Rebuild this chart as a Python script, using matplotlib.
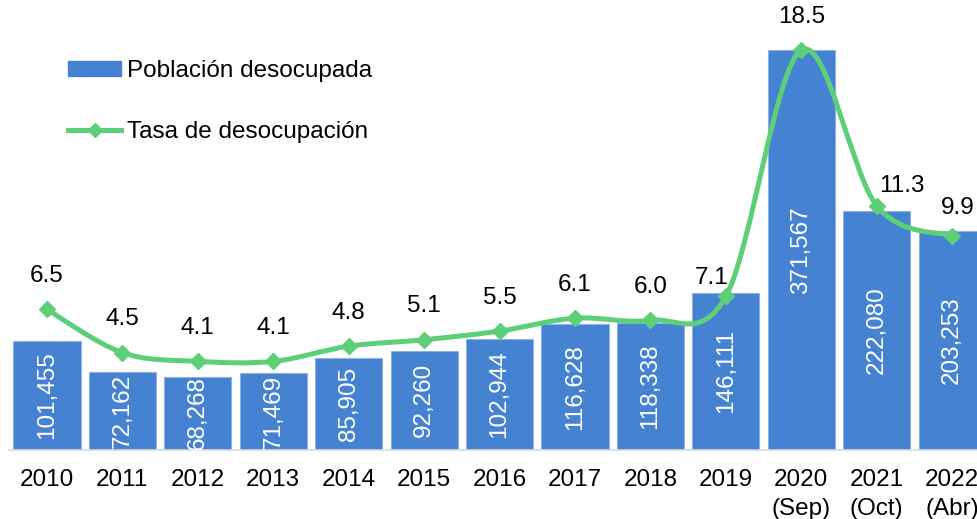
import matplotlib
matplotlib.use("Agg")
import matplotlib.pyplot as plt
from matplotlib.path import Path
from matplotlib.patches import PathPatch
from matplotlib.lines import Line2D
from matplotlib.patches import Patch

plt.rcParams['font.family'] = ['Liberation Sans', 'DejaVu Sans']

categories = ["2010", "2011", "2012", "2013", "2014", "2015", "2016", "2017",
              "2018", "2019", "2020\n(Sep)", "2021\n(Oct)", "2022\n(Abr)"]
poblacion = [101455, 72162, 68268, 71469, 85905, 92260, 102944, 116628,
             118338, 146111, 371567, 222080, 203253]
tasa = [6.5, 4.5, 4.1, 4.1, 4.8, 5.1, 5.5, 6.1, 6.0, 7.1, 18.5, 11.3, 9.9]

bar_color = '#4682D2'
line_color = '#5CCF78'
FS = 17.5

W, H = 977, 519
fig = plt.figure(figsize=(W / 100, H / 100), dpi=100)
ax_left = 9.3 / W
ax_bottom = (H - 450) / H
ax_height = 440 / H
ax = fig.add_axes([ax_left, ax_bottom, 1 - ax_left, ax_height])

x = list(range(len(categories)))
ax.bar(x, poblacion, width=0.89, color=bar_color, edgecolor='#8DB2E6',
       linewidth=0.8, zorder=2)
ax.set_xlim(-0.5, 12.33)
ax.set_ylim(0, max(poblacion) * 440 / 400)
ax.set_xticks(x)
ax.set_xticklabels(categories, fontsize=FS, linespacing=1.4)
ax.tick_params(axis='x', length=0, pad=14)
ax.set_yticks([])
for s in ['top', 'right', 'left']:
    ax.spines[s].set_visible(False)
ax.spines['bottom'].set_color('#D9D9D9')
ax.spines['bottom'].set_linewidth(1.2)

for xi, v in zip(x, poblacion):
    ax.text(xi, v / 2, f"{v:,}", rotation=90, ha='center', va='center',
            color='white', fontsize=FS, zorder=3)

ax2 = ax.twinx()
ax2.set_ylim(0, max(tasa) * 440 / 400)
ax2.set_xlim(-0.5, 12.33)
ax2.axis('off')

# Smoothed line (Catmull-Rom as cubic Bezier, like Excel's smoothed line)
pts = list(zip(x, tasa))
verts = [pts[0]]
codes = [Path.MOVETO]
n = len(pts)
for i in range(n - 1):
    p0 = pts[i - 1] if i > 0 else pts[i]
    p1 = pts[i]
    p2 = pts[i + 1]
    p3 = pts[i + 2] if i + 2 < n else pts[i + 1]
    c1 = (p1[0] + (p2[0] - p0[0]) / 6, p1[1] + (p2[1] - p0[1]) / 6)
    c2 = (p2[0] - (p3[0] - p1[0]) / 6, p2[1] - (p3[1] - p1[1]) / 6)
    verts += [c1, c2, p2]
    codes += [Path.CURVE4] * 3
path = Path(verts, codes)
ax2.add_patch(PathPatch(path, facecolor='none', edgecolor=line_color,
                        linewidth=3.6, capstyle='round', joinstyle='round',
                        zorder=4))
ax2.plot(x, tasa, linestyle='none', marker='D', markersize=8.5,
         color=line_color, zorder=5)

offsets = {9: (-10, 13), 10: (0, 24), 11: (18, 14), 12: (4, 20)}
for xi, v in zip(x, tasa):
    dx, dy = offsets.get(xi, (0, 24))
    ax2.annotate(f"{v:.1f}", (xi, v), xytext=(dx, dy), textcoords='offset points',
                 ha='center', va='center', fontsize=FS, color='black',
                 annotation_clip=False)

handles = [Patch(facecolor=bar_color, edgecolor=bar_color),
           Line2D([0], [0], color=line_color, linewidth=3.6, marker='D',
                  markersize=7)]
labels = ["Población desocupada", "Tasa de desocupación"]
fig.legend(handles, labels, loc='upper left',
           bbox_to_anchor=(68 / W, 1 - 60 / H), frameon=False, fontsize=FS,
           handlelength=2.2, handleheight=0.55, handletextpad=0.22,
           labelspacing=1.6, borderpad=0, borderaxespad=0)

fig.savefig('out.png', dpi=100)
